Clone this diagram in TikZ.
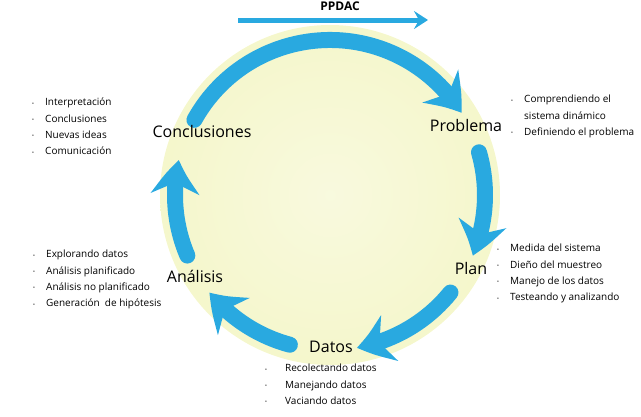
\documentclass[tikz,border=0pt]{standalone}
\usepackage{fontspec}
\setmainfont{Open Sans}
\usetikzlibrary{arrows.meta,bending}
\definecolor{cycleblue}{HTML}{29A9E0}
\definecolor{glowyellow}{HTML}{F4F6C8}
\pgfdeclareradialshading{glow}{\pgfpoint{0bp}{0bp}}{color(0bp)=(glowyellow!60!white); color(30bp)=(glowyellow); color(38bp)=(glowyellow!70!white); color(50bp)=(white); color(70bp)=(white)}
\newcommand{\bul}{\makebox[13pt][l]{\raisebox{0.5pt}{\tiny\textbullet}}}
\tikzset{
  cyclearc/.style={draw=cycleblue, line width=16pt, line cap=round,
    -{Stealth[length=34pt,width=48pt,inset=11pt,bend]}},
  stage/.style={font=\fontsize{16}{18}\selectfont},
  itemlist/.style={anchor=north west, align=left, inner sep=0pt,
    font=\fontsize{10}{16.3}\selectfont}
}
\begin{document}
\begin{tikzpicture}[x=1pt,y=-1pt]
   \useasboundingbox (0,0) rectangle (641,416);
   \coordinate (c) at (330,195);
   % glow
   \shade[shading=glow] (c) circle[radius=170];
   % cycle
   \draw[cyclearc] (c) ++(-151:155) arc[start angle=-151,end angle=-32,radius=155];
   \draw[cyclearc] (c) ++(-16:155) arc[start angle=-16,end angle=23,radius=155];
   \draw[cyclearc] (c) ++(39:155) arc[start angle=39,end angle=80,radius=155];
   \draw[cyclearc] (c) ++(105:155) arc[start angle=105,end angle=141,radius=155];
   \draw[cyclearc] (c) ++(157:155) arc[start angle=157,end angle=193,radius=155];
   % title arrow
   \node (title) at (340,6) {\fontsize{12}{13}\selectfont\bfseries PPDAC};
   \coordinate (ta) at (238,20);
   \coordinate (tb) at (428,20);
   \draw[cycleblue, line width=5pt, -{Stealth[length=14pt,width=18pt,inset=5pt]}] (ta) -- (tb);
   % stages
   \node[stage] (concl) at (202,131) {Conclusiones};
   \node[stage] (probl) at (466,125) {Problema};
   \node[stage] (plan) at (471,268) {Plan};
   \node[stage] (datos) at (331,347) {Datos};
   \node[stage] (anal) at (195,276) {Análisis};
   % lists
   \node[itemlist] (lconcl) at (32,98) {\bul Interpretación\\\bul Conclusiones\\\bul Nuevas ideas\\\bul Comunicación};
   \node[itemlist] (lprobl) at (511,95) {\bul Comprendiendo el\\\hspace*{13pt}sistema dinámico\\\bul Definiendo el problema};
   \node[itemlist] (lplan) at (497,244) {\bul Medida del sistema\\\bul Dieño del muestreo\\\bul Manejo de los datos\\\bul Testeando y analizando};
   \node[itemlist] (lanal) at (33,250) {\bul Explorando datos\\\bul Análisis planificado\\\bul Análisis no planificado\\\bul Generación\ \ de hipótesis};
   \node[itemlist] (ldatos) at (265,364) {\makebox[20pt][l]{\raisebox{0.5pt}{\tiny\textbullet}}Recolectando datos\\\makebox[20pt][l]{\raisebox{0.5pt}{\tiny\textbullet}}Manejando datos\\\makebox[20pt][l]{\raisebox{0.5pt}{\tiny\textbullet}}Vaciando datos};
\end{tikzpicture}
\end{document}
